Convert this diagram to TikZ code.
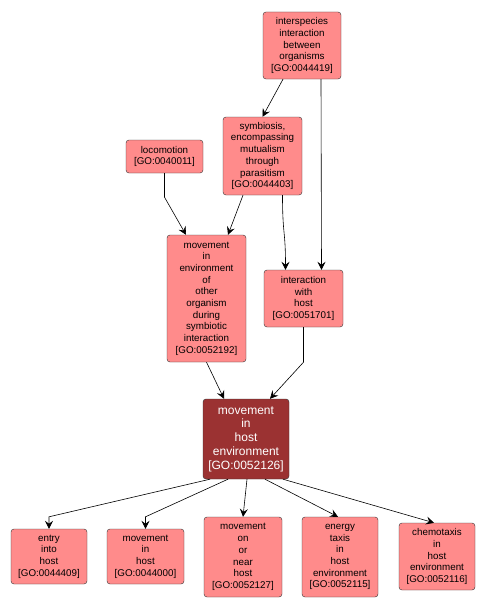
\documentclass[tikz,border=0pt]{standalone}
\usepackage{fontspec}
\setmainfont{Liberation Sans}
\usepackage{xcolor}
\usepackage{tikz}
\usetikzlibrary{arrows.meta,shapes,positioning,calc}
\definecolor{salmon-pink}{RGB}{255,139,139}
\definecolor{dark-red}{RGB}{155,50,50}

\begin{document}
\begin{tikzpicture}[x=1pt, y=-1pt, goterm/.style = {shape=rectangle,
          rounded corners=3pt, draw=black!80, fill=salmon-pink,
          align=center, inner sep=0pt, font=\fontsize{9.8}{11.7}\selectfont},
        gofocus/.style = {goterm, fill=dark-red, text=white,
          font=\fontsize{12}{13.8}\selectfont},
        post/.style={-{Stealth[length=8pt, width=8pt, inset=3pt]}, semithick}]

        \useasboundingbox (0,0) rectangle (486,610);

        \node [goterm, minimum width=78pt, minimum height=67pt] (interspecies) at (302,45.5)
          {interspecies\\interaction\\between\\organisms\\{[GO:0044419]}};
        \node [goterm, minimum width=79pt, minimum height=78pt] (symbiosis) at (262.5,156)
          {symbiosis,\\encompassing\\mutualism\\through\\parasitism\\{[GO:0044403]}};
        \node [goterm, minimum width=77pt, minimum height=33pt] (locomotion) at (164.5,156.5)
          {locomotion\\{[GO:0040011]}};
        \node [goterm, minimum width=79pt, minimum height=127pt] (moveenv) at (206.5,298.5)
          {movement\\in\\environment\\of\\other\\organism\\during\\symbiotic\\interaction\\{[GO:0052192]}};
        \node [goterm, minimum width=79pt, minimum height=57pt] (interaction) at (303.5,298.5)
          {interaction\\with\\host\\{[GO:0051701]}};
        \node [gofocus, minimum width=86pt, minimum height=80pt] (hostenv) at (246,439)
          {movement\\in\\host\\environment\\{[GO:0052126]}};
        \node [goterm, minimum width=76pt, minimum height=55pt] (entry) at (49,556.5)
          {entry\\into\\host\\{[GO:0044409]}};
        \node [goterm, minimum width=77pt, minimum height=55pt] (movehost) at (145.5,556.5)
          {movement\\in\\host\\{[GO:0044000]}};
        \node [goterm, minimum width=78pt, minimum height=80pt] (moveon) at (243,557)
          {movement\\on\\or\\near\\host\\{[GO:0052127]}};
        \node [goterm, minimum width=76pt, minimum height=80pt] (energy) at (340,557)
          {energy\\taxis\\in\\host\\environment\\{[GO:0052115]}};
        \node [goterm, minimum width=76pt, minimum height=67pt] (chemotaxis) at (437,556.5)
          {chemotaxis\\in\\host\\environment\\{[GO:0052116]}};

        % upper part
        \draw [post] ([xshift=-19pt]interspecies.south) -- (symbiosis.north);
        \draw [post] ([xshift=19pt]interspecies.south) -- ([xshift=18pt]interaction.north);
        \draw [post] ([xshift=20pt]symbiosis.south) .. controls +(0,-40pt) and +(0,40pt) .. ([xshift=-18pt]interaction.north);
        \draw [post] ([xshift=-19.5pt]symbiosis.south) -- ([xshift=21.5pt]moveenv.north);
        \draw [post] (locomotion.south) -- ++(0,-24pt) -- ([xshift=-20.5pt]moveenv.north);
        \draw [post] (moveenv.south) -- ([xshift=-22pt]hostenv.north);
        \draw [post] (interaction.south) -- ++(0,-35pt) -- ([xshift=24pt]hostenv.north);

        % children
        \draw [post] ([xshift=-36pt]hostenv.south) -- ([yshift=12pt]entry.north) -- (entry.north);
        \draw [post] ([xshift=-18pt]hostenv.south) -- ([yshift=12pt]movehost.north) -- (movehost.north);
        \draw [post] ([xshift=1pt]hostenv.south) -- (moveon.north);
        \draw [post] ([xshift=19pt]hostenv.south) -- ([xshift=-2pt]energy.north);
        \draw [post] ([xshift=37pt]hostenv.south) -- ([xshift=-3pt]chemotaxis.north);
      \end{tikzpicture}
\end{document}
